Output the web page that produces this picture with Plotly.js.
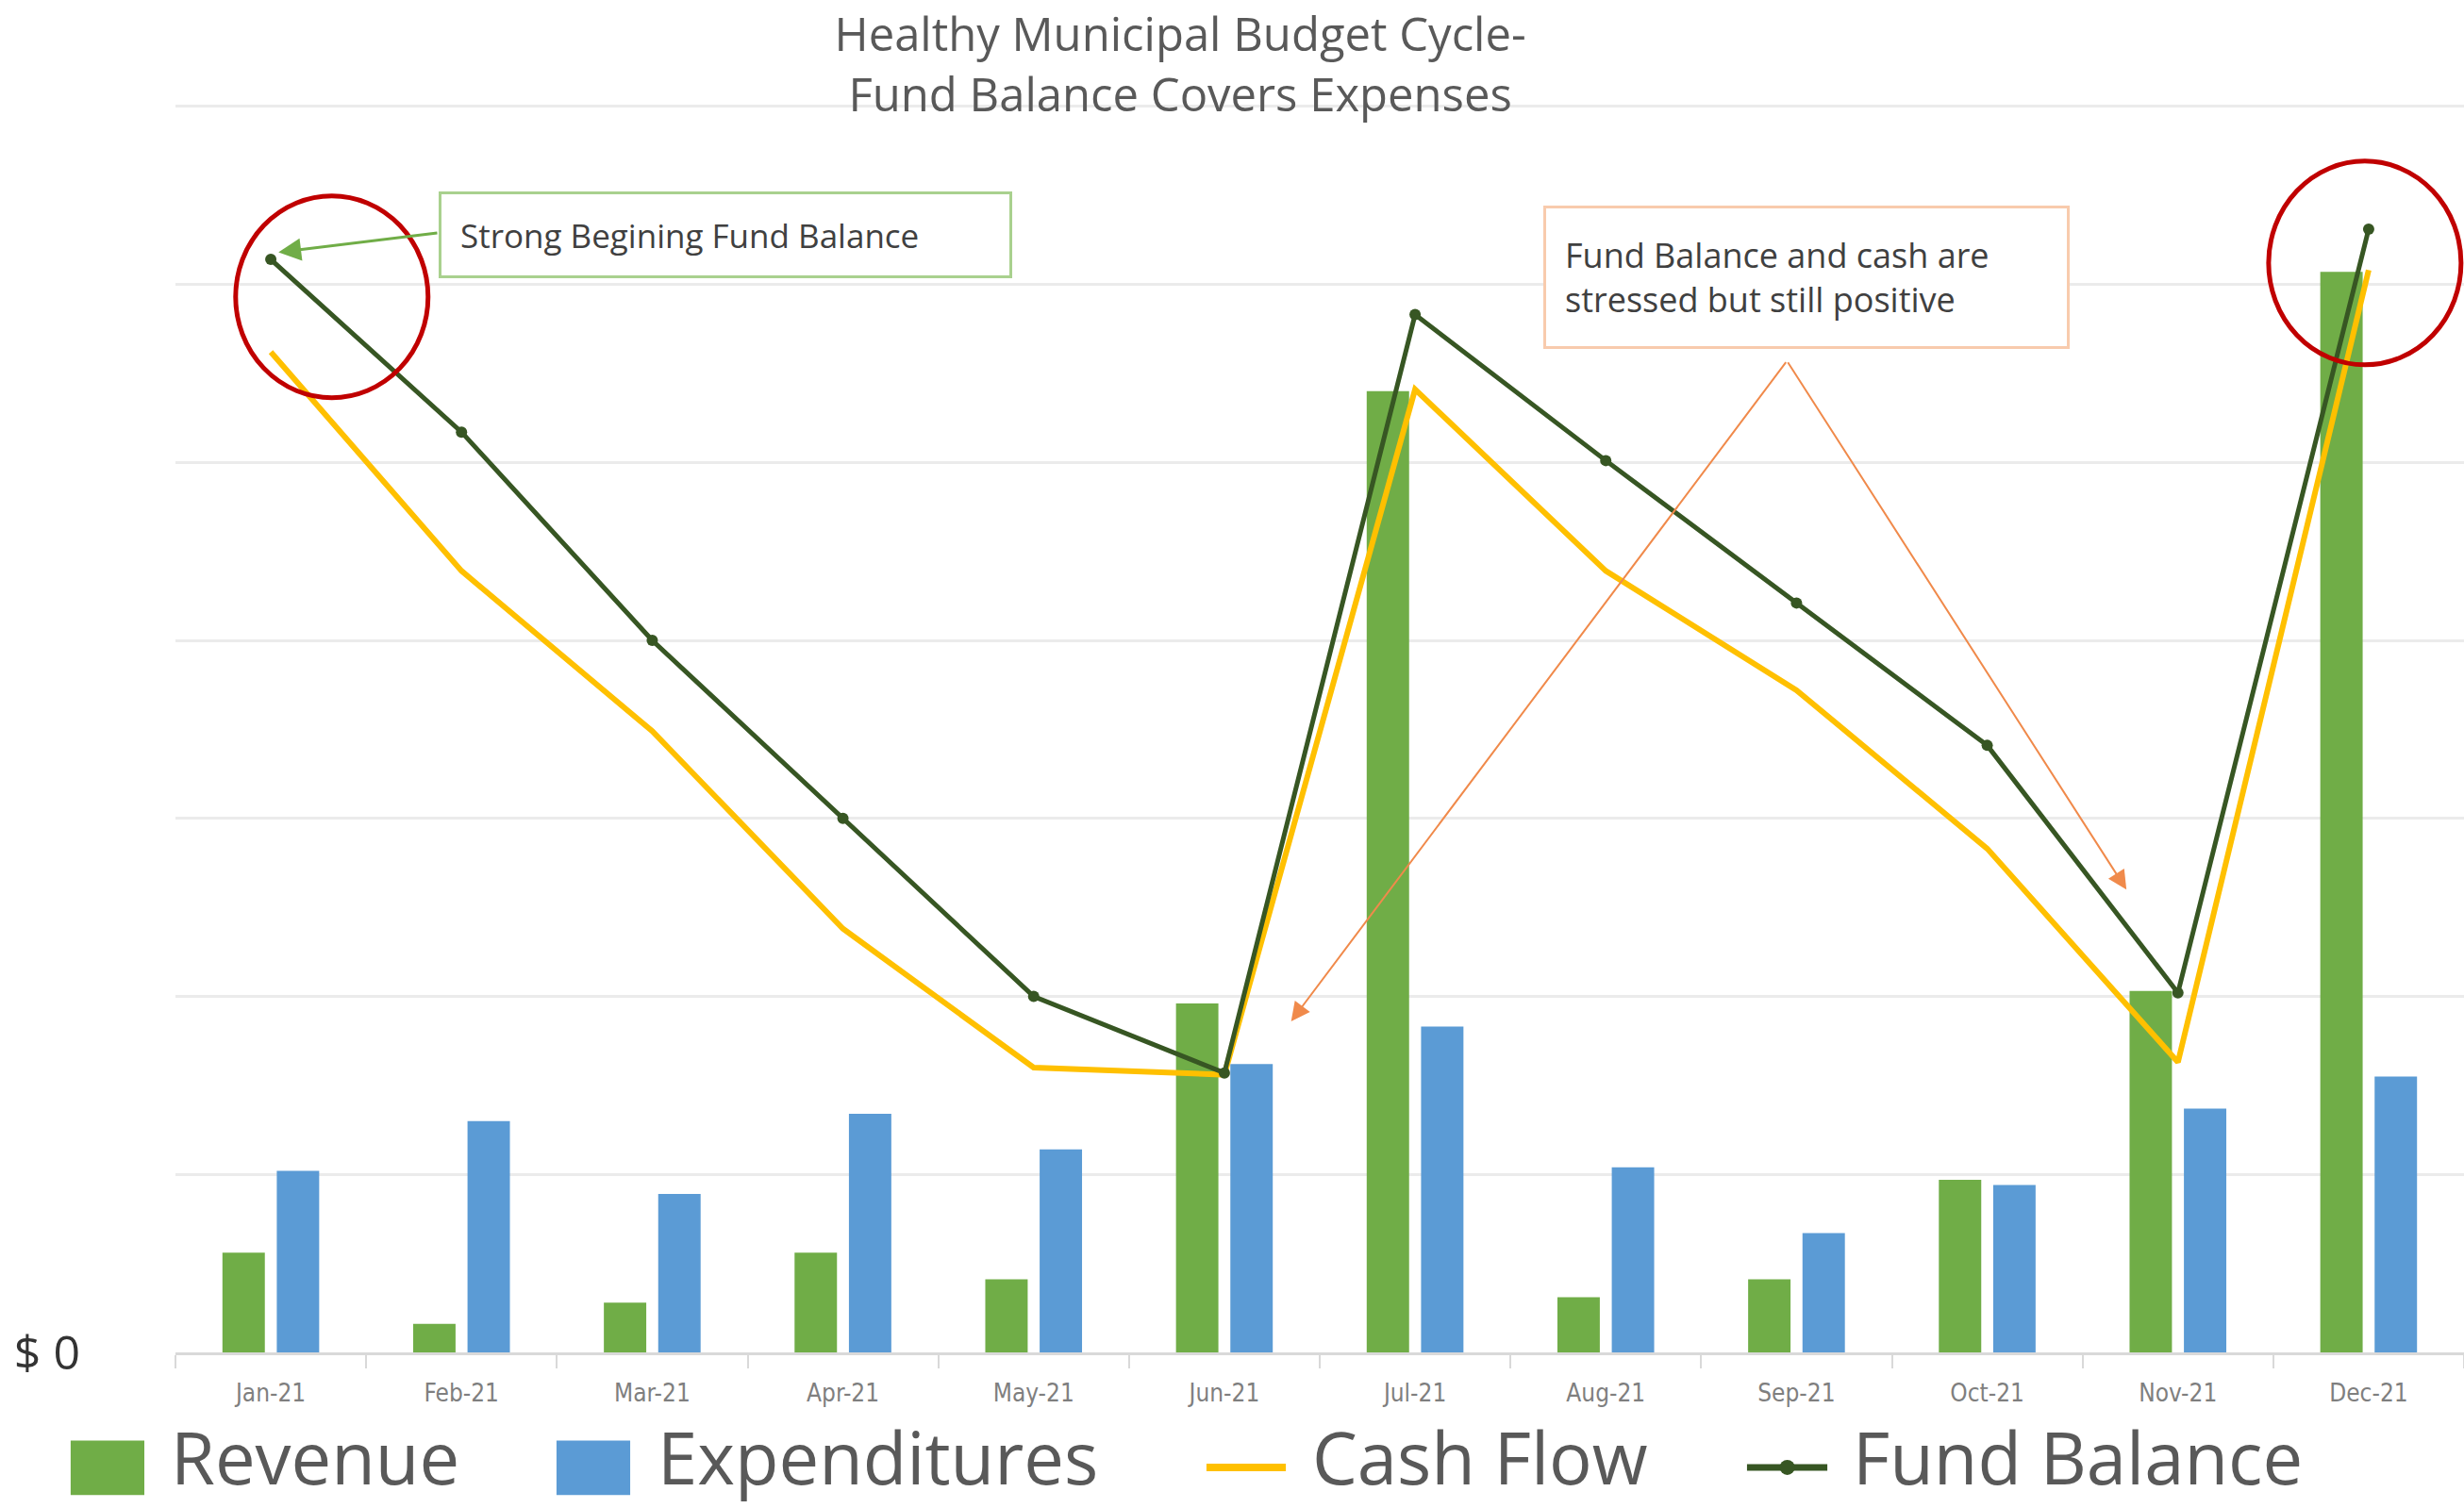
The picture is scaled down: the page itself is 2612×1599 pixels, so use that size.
<!DOCTYPE html>
<html>
<head>
<meta charset="utf-8">
<script src="https://cdn.plot.ly/plotly-3.0.1.min.js"></script>
<style>html,body{margin:0;padding:0;background:#fff;}#chart{width:2612px;height:1599px;}</style>
</head>
<body>
<div id="chart"></div>
<script>
// Values in $ millions (one gridline = 1 unit)
const months = ['Jan-21','Feb-21','Mar-21','Apr-21','May-21','Jun-21','Jul-21','Aug-21','Sep-21','Oct-21','Nov-21','Dec-21'];
const revenue = [0.56, 0.16, 0.28, 0.56, 0.41, 1.96, 5.40, 0.31, 0.41, 0.97, 2.03, 6.07];
const expenditures = [1.02, 1.30, 0.89, 1.34, 1.14, 1.62, 1.83, 1.04, 0.67, 0.94, 1.37, 1.55];
const cashFlow = [5.62, 4.39, 3.49, 2.38, 1.60, 1.56, 5.41, 4.39, 3.72, 2.83, 1.63, 6.08];
const fundBalance = [6.14, 5.17, 4.00, 3.00, 2.00, 1.57, 5.83, 5.01, 4.21, 3.41, 2.02, 6.31];
const yTickVals = [0, 1, 2, 3, 4, 5, 6, 7];
const yTickText = ['$ 0', '', '', '', '', '', '', ''];
const seriesNames = ['Revenue', 'Expenditures', 'Cash Flow', 'Fund Balance'];
const seriesColors = ['#70AD47', '#5B9BD5', '#FFC000', '#375623'];

const FONT = 'Open Sans, Liberation Sans, sans-serif';

const traces = [
  {type:'bar', name:seriesNames[0], x:months, y:revenue, marker:{color:seriesColors[0]}, showlegend:false},
  {type:'bar', name:seriesNames[1], x:months, y:expenditures, marker:{color:seriesColors[1]}, showlegend:false},
  {type:'scatter', mode:'lines', name:seriesNames[2], x:months, y:cashFlow, line:{color:seriesColors[2], width:6}, showlegend:false},
  {type:'scatter', mode:'lines+markers', name:seriesNames[3], x:months, y:fundBalance, line:{color:seriesColors[3], width:5}, marker:{color:seriesColors[3], size:12}, showlegend:false}
];

// manual legend (large symbols like the original)
const legY = -0.092;
const legTextY = -0.1238;
const shapes = [
  {type:'rect', xref:'paper', yref:'paper', x0:-0.0458, x1:-0.0136, y0:-0.0705, y1:-0.1142, fillcolor:seriesColors[0], line:{width:0}},
  {type:'rect', xref:'paper', yref:'paper', x0:0.1665, x1:0.1987, y0:-0.0705, y1:-0.1142, fillcolor:seriesColors[1], line:{width:0}},
  {type:'line', xref:'paper', yref:'paper', x0:0.4505, x1:0.4852, y0:legY, y1:legY, line:{color:seriesColors[2], width:8}},
  {type:'line', xref:'paper', yref:'paper', x0:0.6867, x1:0.7218, y0:legY, y1:legY, line:{color:seriesColors[3], width:7}},
  {type:'circle', xref:'paper', yref:'paper', xsizemode:'pixel', ysizemode:'pixel', xanchor:0.7043, yanchor:legY, x0:-8, x1:8, y0:-8, y1:8, fillcolor:seriesColors[3], line:{width:0}},
  // red highlight circles
  {type:'circle', xref:'x', yref:'y', xsizemode:'pixel', ysizemode:'pixel', xanchor:0.32, yanchor:5.93, x0:-102, x1:102, y0:-107, y1:107, line:{color:'#C00000', width:5}},
  {type:'circle', xref:'x', yref:'y', xsizemode:'pixel', ysizemode:'pixel', xanchor:10.98, yanchor:6.12, x0:-102, x1:102, y0:-108, y1:108, line:{color:'#C00000', width:5}}
];

const legText = (txt, x) => ({xref:'paper', yref:'paper', x:x, y:legTextY, xanchor:'left', yanchor:'bottom', showarrow:false, text:txt, font:{family:FONT, size:76, color:'#595959'}});

const annotations = [
  legText(seriesNames[0], -0.003),
  legText(seriesNames[1], 0.210),
  legText(seriesNames[2], 0.496),
  legText(seriesNames[3], 0.732),
  // text boxes
  {xref:'x', yref:'y', x:0.88, y:6.28, xanchor:'left', yanchor:'middle', showarrow:false,
   text:'Strong Begining Fund Balance', align:'left', width:562, height:46, borderpad:20,
   bordercolor:'#A9D18E', borderwidth:3, bgcolor:'#ffffff', font:{family:FONT, size:35, color:'#404040'}},
  {xref:'x', yref:'y', x:6.67, y:6.04, xanchor:'left', yanchor:'middle', showarrow:false,
   text:'Fund Balance and cash are<br>stressed but still positive', align:'left', width:512, height:106, borderpad:20,
   bordercolor:'#F8CBAD', borderwidth:3, bgcolor:'#ffffff', font:{family:FONT, size:36, color:'#404040'}},
  // arrows
  {xref:'x', yref:'y', axref:'x', ayref:'y', x:0.04, y:6.18, ax:0.88, ay:6.29, text:'', showarrow:true,
   arrowcolor:'#70AD47', arrowwidth:3, arrowhead:2, arrowsize:1.6, standoff:0, startstandoff:0},
  {xref:'x', yref:'y', axref:'x', ayref:'y', x:5.35, y:1.86, ax:7.95, ay:5.57, text:'', showarrow:true,
   arrowcolor:'#F08A4B', arrowwidth:2, arrowhead:2, arrowsize:2, standoff:0, startstandoff:0},
  {xref:'x', yref:'y', axref:'x', ayref:'y', x:9.73, y:2.60, ax:7.95, ay:5.57, text:'', showarrow:true,
   arrowcolor:'#F08A4B', arrowwidth:2, arrowhead:2, arrowsize:2, standoff:0, startstandoff:0}
];

const layout = {
  width:2612, height:1599,
  margin:{l:186, r:0, t:109, b:165},
  paper_bgcolor:'#ffffff', plot_bgcolor:'#ffffff',
  title:{text:'Healthy Municipal Budget Cycle-<br>Fund Balance Covers Expenses', x:0.479, xanchor:'center', xref:'container',
         y:0.966, yanchor:'top', yref:'container', font:{family:FONT, size:49, color:'#595959'}},
  barmode:'group', bargap:0.43, bargroupgap:0.22,
  showlegend:false,
  xaxis:{type:'category', range:[-0.5, 11.5], autorange:false, tickson:'boundaries', ticks:'outside', ticklen:14, tickwidth:2, tickcolor:'#D9D9D9',
         showline:true, linecolor:'#D9D9D9', linewidth:3, showgrid:false, fixedrange:true,
         tickfont:{family:'Liberation Sans Narrow, DejaVu Sans Condensed, sans-serif', size:26, color:'#7F7F7F'},
         ticklabelstandoff:18},
  yaxis:{range:[0, 7.02], autorange:false, tickvals:yTickVals, ticktext:yTickText, showgrid:true, gridcolor:'#EBEBEB', gridwidth:3,
         zeroline:false, showline:false, ticks:'', ticklabelstandoff:100,
         tickfont:{family:FONT, size:50, color:'#333333'}},
  shapes:shapes,
  annotations:annotations
};

Plotly.newPlot('chart', traces, layout, {displayModeBar:false, staticPlot:true});
</script>
</body>
</html>
